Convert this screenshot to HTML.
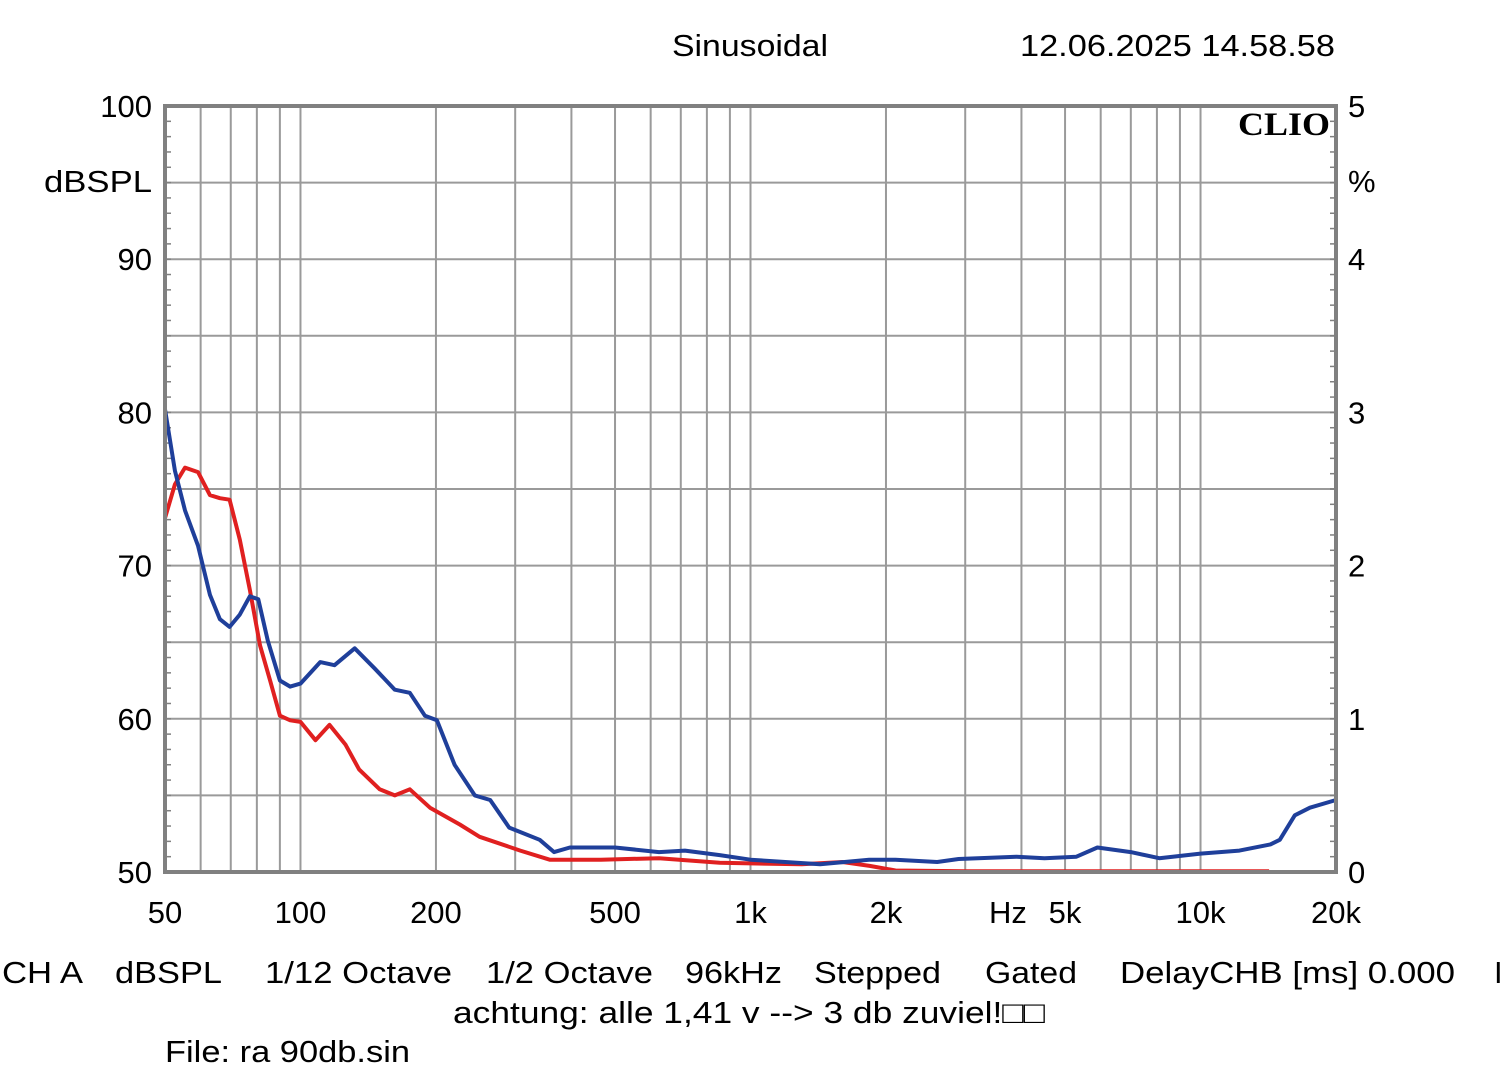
<!DOCTYPE html>
<html><head><meta charset="utf-8"><style>
html,body{margin:0;padding:0;background:#fff;}
svg{display:block;font-family:"Liberation Sans",sans-serif;}
</style></head><body>
<svg id="chart" width="1500" height="1085" viewBox="0 0 1500 1085" xmlns="http://www.w3.org/2000/svg">
<rect width="1500" height="1085" fill="#fff"/>
<g id="grid"></g>
<g id="ticks"></g>
<g id="series"></g>
<rect x="165" y="106" width="1171" height="766" fill="none" stroke="#808080" stroke-width="4"/>
<text x="1238" y="135" textLength="92" lengthAdjust="spacingAndGlyphs" font-family="Liberation Serif,serif" font-weight="bold" font-size="33">CLIO</text>
<text x="672" y="56" textLength="156" lengthAdjust="spacingAndGlyphs" font-size="31">Sinusoidal</text>
<text x="1020" y="56" textLength="315" lengthAdjust="spacingAndGlyphs" font-size="31">12.06.2025 14.58.58</text>
<text x="44" y="192" textLength="108" lengthAdjust="spacingAndGlyphs" font-size="31">dBSPL</text>
<text x="1348" y="192" font-size="31">%</text>
<text x="1008" y="923" text-anchor="middle" font-size="31">Hz</text>
<g id="labels"></g>
<g font-size="31">
<text x="2" y="983" textLength="81" lengthAdjust="spacingAndGlyphs">CH A</text>
<text x="115" y="983" textLength="107" lengthAdjust="spacingAndGlyphs">dBSPL</text>
<text x="265" y="983" textLength="187" lengthAdjust="spacingAndGlyphs">1/12 Octave</text>
<text x="486" y="983" textLength="167" lengthAdjust="spacingAndGlyphs">1/2 Octave</text>
<text x="685" y="983" textLength="97" lengthAdjust="spacingAndGlyphs">96kHz</text>
<text x="814" y="983" textLength="127" lengthAdjust="spacingAndGlyphs">Stepped</text>
<text x="985" y="983" textLength="92" lengthAdjust="spacingAndGlyphs">Gated</text>
<text x="1120" y="983" textLength="335" lengthAdjust="spacingAndGlyphs">DelayCHB [ms] 0.000</text>
<text x="1494" y="983">I</text>
</g>
<text x="453" y="1023" textLength="592" lengthAdjust="spacingAndGlyphs" font-size="31">achtung: alle 1,41 v --&gt; 3 db zuviel!□□</text>
<text x="165" y="1062" textLength="245" lengthAdjust="spacingAndGlyphs" font-size="31">File: ra 90db.sin</text>
</svg>
<script>
const xTickVals=[50,100,200,500,1000,2000,5000,10000,20000];
const xTickLabels=["50","100","200","500","1k","2k","5k","10k","20k"];
const yTickVals=[50,60,70,80,90,100];
const y2TickLabels=["0","1","2","3","4","5"];
const blueFreq=[50,52.6,55.4,59.2,62.9,66.2,69.6,73.3,77.2,80.6,84.6,90,94.9,100,110.6,119,132,146,162,175,189,201,220,244,264,291,340,366,397,500,626,715,854,1000,1428,1835,2100,2600,2900,3900,4500,5300,5900,7000,8100,10000,12200,14300,15000,16200,17500,20000];
const blueDb=[80.2,76.2,73.6,71.3,68.1,66.5,66.0,66.8,68.0,67.8,65.1,62.5,62.1,62.3,63.7,63.5,64.6,63.3,61.9,61.7,60.2,59.9,57.0,55.0,54.7,52.9,52.1,51.3,51.6,51.6,51.3,51.4,51.1,50.8,50.5,50.8,50.8,50.65,50.85,51.0,50.9,51.0,51.6,51.3,50.9,51.2,51.4,51.8,52.1,53.7,54.2,54.7];
const redFreq=[50,52.6,55.4,59.2,62.9,66.2,69.6,73.3,77.2,81.3,85.6,90,94.9,100,108,116,126,135,150,162,175,194,226,250,308,358,465,626,854,1300,1600,1840,2100,3000,14200];
const redDb=[73.1,75.3,76.4,76.1,74.6,74.4,74.3,71.7,68.4,64.8,62.5,60.2,59.9,59.8,58.6,59.6,58.3,56.7,55.4,55.0,55.4,54.2,53.1,52.3,51.4,50.8,50.8,50.9,50.6,50.5,50.65,50.4,50.1,50.05,50.05];

const L=165,R=1336,T=106,B=872;
const xs=f=>L+(R-L)*Math.log10(f/50)/Math.log10(400);
const ys=d=>B-(B-T)*(d-50)/50;
const NS="http://www.w3.org/2000/svg";
function mk(tag,attrs,parent){const e=document.createElementNS(NS,tag);for(const k in attrs)e.setAttribute(k,attrs[k]);parent.appendChild(e);return e;}
const grid=document.getElementById('grid'),ticks=document.getElementById('ticks'),labels=document.getElementById('labels'),series=document.getElementById('series');
const gridFreqs=[];
for(const dec of [10,100,1000,10000])for(let m=1;m<=9;m++){const f=m*dec;if(f>=50&&f<=20000)gridFreqs.push(f);}
gridFreqs.push(20000);
gridFreqs.forEach(f=>{const x=xs(f);
const l=mk('line',{x1:x,x2:x,y1:T,y2:B,stroke:'#9a9a9a','stroke-width':2},grid);

});
for(let d=50;d<=100;d+=5){const y=ys(d);
const l=mk('line',{x1:L,x2:R,y1:y,y2:y,stroke:'#9a9a9a','stroke-width':2},grid);

}
for(let d=50;d<=100;d++){const y=ys(d);
const a=mk('line',{x1:L,x2:L+6,y1:y,y2:y,stroke:'#808080','stroke-width':1.5},ticks);


const b=mk('line',{x1:R-6,x2:R,y1:y,y2:y,stroke:'#808080','stroke-width':1.5},ticks);

}
xTickVals.forEach((f,i)=>{const t=mk('text',{x:xs(f),y:923,'text-anchor':'middle','font-size':31},labels);t.textContent=xTickLabels[i];

});
yTickVals.forEach((d,i)=>{const t=mk('text',{x:152,y:ys(d)+11,'text-anchor':'end','font-size':31},labels);t.textContent=String(d);


const t2=mk('text',{x:1348,y:ys(d)+11,'font-size':31},labels);t2.textContent=y2TickLabels[i];

});
function draw(fr,db,color,name){const p=fr.map((f,i)=>(i?'L':'M')+xs(f).toFixed(1)+','+ys(db[i]).toFixed(1)).join(' ');
const e=mk('path',{d:p,fill:'none',stroke:color,'stroke-width':4,'stroke-linejoin':'round'},series);

}
draw(redFreq,redDb,'#e02020','red-response-curve');
draw(blueFreq,blueDb,'#1f3f9a','blue-response-curve');
</script>
</body></html>
